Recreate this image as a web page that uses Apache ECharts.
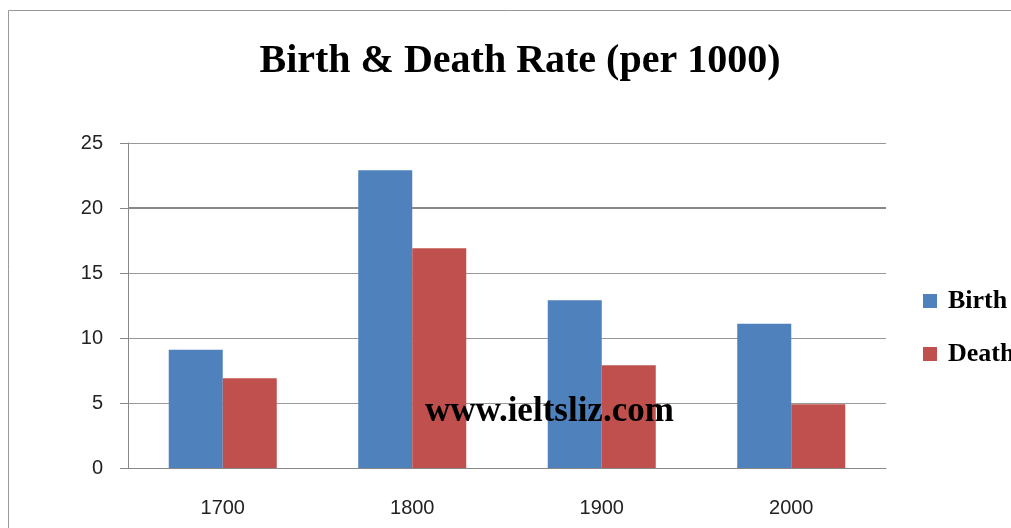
<!DOCTYPE html>
<html>
<head>
<meta charset="UTF-8">
<title>Birth & Death Rate</title>
<script src="https://cdn.jsdelivr.net/npm/echarts@6/dist/echarts.min.js"></script>
<style>
  html, body { margin: 0; padding: 0; background: #fff; }
</style>
</head>
<body>
<div id="main" style="width:1011px;height:528px"></div>
<script>
// data
var years = ['1700', '1800', '1900', '2000'];
var birth = [9.1, 22.9, 12.9, 11.1];
var death = [6.9, 16.9, 7.9, 4.9];
var yTicks = [0, 5, 10, 15, 20, 25];

var chart = echarts.init(document.getElementById('main'));

var option = {
  backgroundColor: '#fff',
  animation: false,
  title: {
    text: 'Birth & Death Rate (per 1000)',
    left: 515,
    top: 37,
    textAlign: 'center',
    textStyle: {
      fontFamily: 'Liberation Serif',
      fontWeight: 'bold',
      fontSize: 40,
      color: '#000'
    }
  },
  legend: {
    orient: 'vertical',
    left: 923,
    top: 288,
    padding: 0,
    itemWidth: 14,
    itemHeight: 14,
    itemGap: 27,
    icon: 'rect',
    data: ['Birth', 'Death'],
    textStyle: {
      fontFamily: 'Liberation Serif',
      fontWeight: 'bold',
      fontSize: 26,
      color: '#000',
      padding: [0, 0, 0, 6]
    }
  },
  grid: {
    left: 128,
    right: 125,
    top: 143,
    bottom: 60,
    containLabel: false
  },
  xAxis: {
    type: 'category',
    data: years,
    axisTick: { show: false },
    axisLine: { lineStyle: { color: '#888', width: 1 } },
    axisLabel: {
      margin: 30,
      fontFamily: 'Liberation Sans',
      fontSize: 20,
      color: '#222'
    }
  },
  yAxis: {
    type: 'value',
    min: yTicks[0],
    max: yTicks[yTicks.length - 1],
    interval: 5,
    axisLine: { show: true, lineStyle: { color: '#888', width: 1 } },
    axisTick: { show: true, length: 8, lineStyle: { color: '#888' } },
    splitLine: { lineStyle: { color: '#999', width: 1 } },
    axisLabel: {
      margin: 25,
      fontFamily: 'Liberation Sans',
      fontSize: 20,
      color: '#222'
    }
  },
  series: [
    {
      name: 'Birth',
      type: 'bar',
      data: birth,
      barGap: '0%',
      barCategoryGap: '43%',
      itemStyle: { color: '#4F81BD' },
      z: 3,
      markLine: {
        silent: true,
        symbol: 'none',
        label: { show: false },
        lineStyle: { color: '#888', width: 2, type: 'solid' },
        z: 1,
        data: [{ yAxis: 20 }]
      }
    },
    {
      name: 'Death',
      type: 'bar',
      data: death,
      itemStyle: { color: '#C0504D' },
      z: 3
    }
  ],
  graphic: [
    {
      type: 'rect',
      shape: { x: 8.5, y: 10.5, width: 1100, height: 600 },
      style: { fill: null, stroke: '#999', lineWidth: 1 },
      silent: true
    },
    {
      type: 'text',
      left: 425,
      top: 394,
      z: 100,
      style: {
        text: 'www.ieltsliz.com',
        fontFamily: 'Liberation Serif',
        fontWeight: 'bold',
        fontSize: 35,
        fill: '#000'
      }
    }
  ]
};

chart.setOption(option);
</script>
</body>
</html>
